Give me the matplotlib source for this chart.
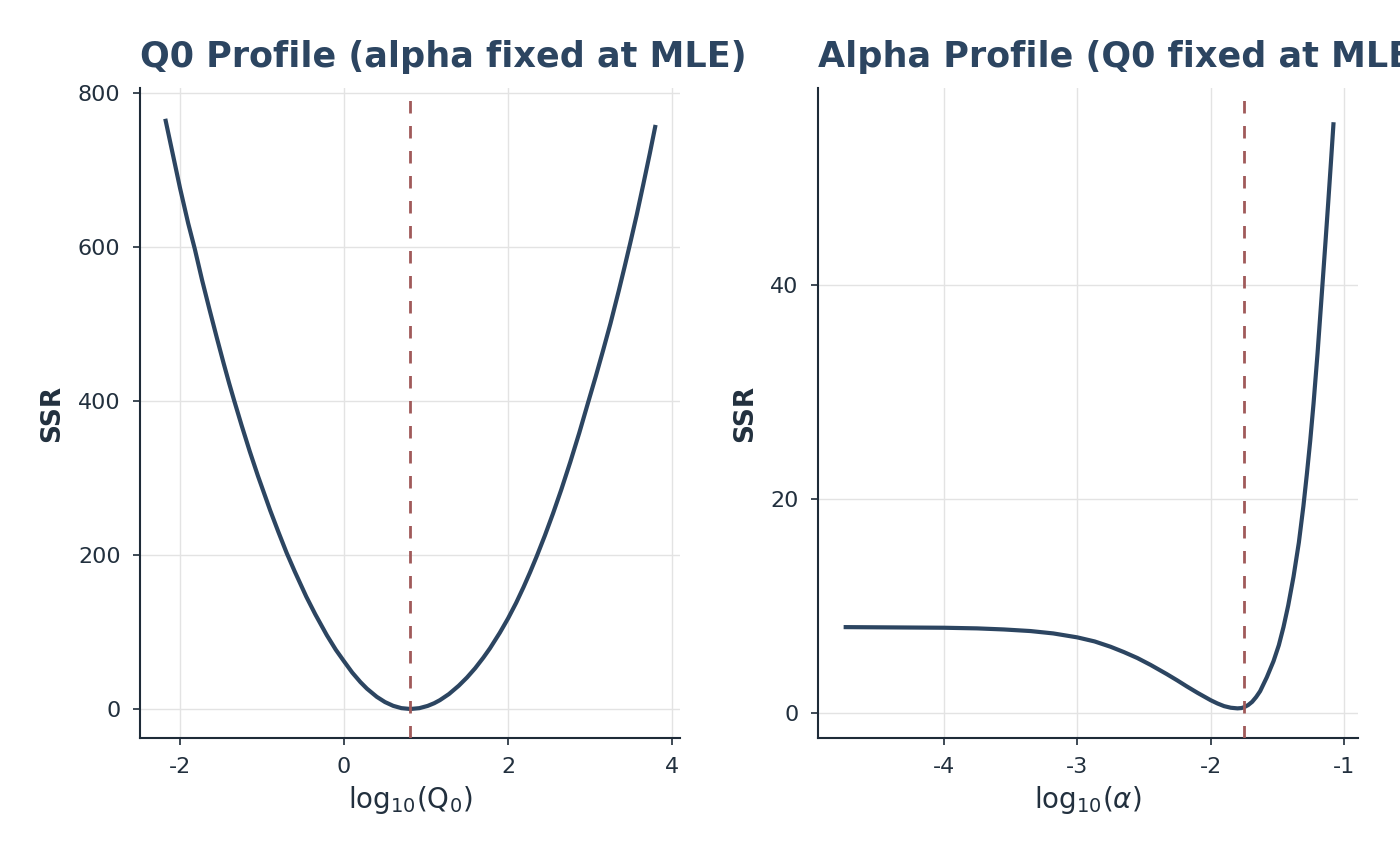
import matplotlib
matplotlib.use("Agg")
import matplotlib.pyplot as plt

# ---- data ----
q0_log = [-2.18, -2.10, -2.0, -1.90, -1.82, -1.73, -1.64, -1.55, -1.47, -1.40, -1.34,
          -1.25, -1.15, -1.05, -0.95, -0.90, -0.80, -0.70, -0.60, -0.46, -0.35, -0.21,
          -0.10, 0.0, 0.10, 0.20, 0.28, 0.40, 0.50, 0.60, 0.70, 0.81, 0.92, 1.02,
          1.10, 1.17, 1.28, 1.40, 1.50, 1.60, 1.70, 1.78, 1.90, 2.0, 2.10, 2.19,
          2.27, 2.35, 2.45, 2.55, 2.65, 2.76, 2.87, 2.98, 3.07, 3.16, 3.25, 3.35,
          3.42, 3.49, 3.57, 3.65, 3.73, 3.80]
q0_ssr = [767, 727, 677, 631, 598, 557, 519, 482, 450, 423, 401,
          369, 335, 303, 273, 258, 230, 203, 178.5, 146, 123, 96,
          77, 62, 47.4, 35, 26.4, 15.8, 9.0, 4.1, 1.1, 0, 1.1, 4.0,
          7.5, 11.5, 19.4, 30.3, 40.9, 53, 66.8, 78.8, 99, 117.5, 138, 158.4,
          177.8, 198.3, 225.4, 254.3, 285, 321, 359, 399.3, 432, 466, 501, 543,
          573.6, 605, 642, 681.6, 722, 759]
q0_mle = 0.81

alpha_log = [-4.75, -4.50, -4.25, -4.0, -3.75, -3.55, -3.35, -3.18, -3.0, -2.87, -2.75,
             -2.65, -2.55, -2.45, -2.33, -2.25, -2.18, -2.10, -2.0, -1.95, -1.90,
             -1.85, -1.80, -1.77, -1.75, -1.72, -1.69, -1.66, -1.63, -1.58, -1.53,
             -1.49, -1.455, -1.42, -1.38, -1.34, -1.306, -1.28, -1.255, -1.23, -1.20,
             -1.169, -1.14, -1.12, -1.10, -1.08]
alpha_ssr = [7.99, 7.97, 7.95, 7.93, 7.87, 7.77, 7.62, 7.40, 7.03, 6.65, 6.15,
             5.65, 5.1, 4.45, 3.6, 3.0, 2.45, 1.85, 1.15, 0.85, 0.6,
             0.45, 0.39, 0.42, 0.5, 0.7, 1.0, 1.45, 2.0, 3.3, 4.8,
             6.3, 8.0, 10.0, 12.7, 15.9, 19.3, 22.3, 25.4, 28.9, 33.6,
             39.0, 44.1, 47.7, 51.4, 55.2]
alpha_mle = -1.753

q0_xticks = [-2, 0, 2, 4]
q0_yticks = [0, 200, 400, 600, 800]
alpha_xticks = [-4, -3, -2, -1]
alpha_yticks = [0, 20, 40]

titles = ["Q0 Profile (alpha fixed at MLE)", "Alpha Profile (Q0 fixed at MLE)"]
xlabels = [r"$\mathrm{log}_{10}(\mathrm{Q}_0)$", r"$\mathrm{log}_{10}(\alpha)$"]
ylabel = "SSR"

# ---- style ----
plt.rcParams["font.family"] = ["DejaVu Sans"]
plt.rcParams["axes.unicode_minus"] = False
plt.rcParams["mathtext.fontset"] = "dejavusans"

curve_col = "#2C4561"
vline_col = "#A05A5A"
spine_col = "#1E2B38"
text_col = "#22303E"
title_col = "#2C4561"
grid_col = "#E3E3E3"

W, H = 1400, 866
fig = plt.figure(figsize=(W / 100, H / 100), dpi=100)

def px_axes(x0, y0, x1, y1):
    return fig.add_axes([x0 / W, 1 - y1 / H, (x1 - x0) / W, (y1 - y0) / H])

ax1 = px_axes(140, 88, 680, 738)
ax2 = px_axes(818, 88, 1358, 738)

panels = [
    (ax1, q0_log, q0_ssr, q0_mle, q0_xticks, q0_yticks, (-2.488, 4.098), (-37.7, 807)),
    (ax2, alpha_log, alpha_ssr, alpha_mle, alpha_xticks, alpha_yticks, (-4.942, -0.897), (-2.38, 58.4)),
]

for i, (ax, xs, ys, mle, xt, yt, xl, yl) in enumerate(panels):
    ax.set_axisbelow(True)
    ax.grid(True, color=grid_col, linewidth=1.0)
    ax.plot(xs, ys, color=curve_col, linewidth=3.0, solid_capstyle="butt",
            solid_joinstyle="round", zorder=3)
    ax.axvline(mle, color=vline_col, linewidth=2.0, dashes=(4.5, 4.5), zorder=4)
    ax.set_xticks(xt)
    ax.set_yticks(yt)
    ax.set_xlim(*xl)
    ax.set_ylim(*yl)
    for s in ["top", "right"]:
        ax.spines[s].set_visible(False)
    for s in ["left", "bottom"]:
        ax.spines[s].set_color(spine_col)
        ax.spines[s].set_linewidth(1.5)
    ax.tick_params(axis="both", colors=spine_col, labelcolor=text_col, length=5,
                   width=1.2, labelsize=16, pad=9)
    ax.set_title(titles[i], loc="left", fontsize=25.2, fontweight="bold",
                 color=title_col, pad=15)
    ax.set_xlabel(xlabels[i], fontsize=20, color=text_col, labelpad=5)
    ax.set_ylabel(ylabel, fontsize=19, fontweight="bold", color=text_col, labelpad=9)

fig.savefig("out.png", dpi=100)
